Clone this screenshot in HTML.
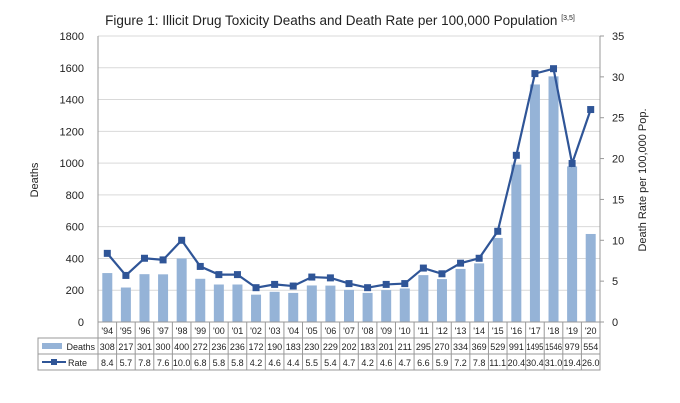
<!DOCTYPE html>
<html><head><meta charset="utf-8"><style>
body{margin:0;background:#fff;font-family:"Liberation Sans",sans-serif;}
svg{display:block}
</style></head><body>
<svg id="c" width="680" height="403" font-family="Liberation Sans, sans-serif"></svg>
<script>
const years=["'94","'95","'96","'97","'98","'99","'00","'01","'02","'03","'04","'05","'06","'07","'08","'09","'10","'11","'12","'13","'14","'15","'16","'17","'18","'19","'20"];
const deaths=[308,217,301,300,400,272,236,236,172,190,183,230,229,202,183,201,211,295,270,334,369,529,991,1495,1546,979,554];
const rates=[8.4,5.7,7.8,7.6,10.0,6.8,5.8,5.8,4.2,4.6,4.4,5.5,5.4,4.7,4.2,4.6,4.7,6.6,5.9,7.2,7.8,11.1,20.4,30.4,31.0,19.4,26.0];
const leftTicks=[0,200,400,600,800,1000,1200,1400,1600,1800];
const rightTicks=[0,5,10,15,20,25,30,35];
const NS="http://www.w3.org/2000/svg",svg=document.getElementById('c');
const X0=98,X1=600,Y0=322,Y1=36,cw=(X1-X0)/years.length;
const yL=v=>Y0-(v/1800)*(Y0-Y1), yR=v=>Y0-(v/35)*(Y0-Y1), xc=i=>X0+cw*(i+0.5);
function el(t,a,txt){const e=document.createElementNS(NS,t);for(const k in a)e.setAttribute(k,a[k]);if(txt!=null)e.textContent=txt;svg.appendChild(e);return e;}
let t=el('text',{x:340,y:25,'font-size':13.5,'text-anchor':'middle',fill:'#222'},'Figure 1: Illicit Drug Toxicity Deaths and Death Rate per 100,000 Population ');

const sp=document.createElementNS(NS,'tspan');sp.setAttribute('font-size','7');sp.setAttribute('dy','-5');sp.textContent='[3,5]';t.appendChild(sp);
leftTicks.forEach(v=>{const g=el('line',{x1:X0,x2:X1,y1:yL(v),y2:yL(v),stroke:'#d9d9d9'});
const l=el('text',{x:84,y:yL(v)+4,'font-size':11,'text-anchor':'end',fill:'#222'},v);});
rightTicks.forEach(v=>{el('line',{x1:X1,x2:X1+4,y1:yR(v),y2:yR(v),stroke:'#999'});
const l=el('text',{x:612,y:yR(v)+4,'font-size':11,fill:'#222'},v);});
el('line',{x1:X0,x2:X0,y1:Y1,y2:Y0,stroke:'#999'});el('line',{x1:X1,x2:X1,y1:Y1,y2:Y0,stroke:'#999'});
let a=el('text',{transform:'translate(38,180) rotate(-90)','font-size':11,'text-anchor':'middle',fill:'#222'},'Deaths');
a=el('text',{transform:'translate(646,180) rotate(-90)','font-size':11,'text-anchor':'middle',fill:'#222'},'Death Rate per 100,000 Pop.');
deaths.forEach((d,i)=>{const b=el('rect',{x:xc(i)-5,y:yL(d),width:10,height:Y0-yL(d),fill:'#95b3d7'});});
const pl=el('polyline',{points:rates.map((r,i)=>xc(i)+','+yR(r)).join(' '),fill:'none',stroke:'#2f5597','stroke-width':2.2});
rates.forEach((r,i)=>{const m=el('rect',{x:xc(i)-3.5,y:yR(r)-3.5,width:7,height:7,fill:'#2f5597'});});
el('line',{x1:X0,x2:X1,y1:Y0,y2:Y0,stroke:'#999'});
// table
const T0=Y0,rh=16,LX=38;
const rowsY=[T0,T0+rh,T0+2*rh,T0+3*rh];
el('rect',{x:LX,y:T0+rh,width:X1-LX,height:2*rh,fill:'none',stroke:'#999'});
rowsY.forEach((y,k)=>el('line',{x1:k==0?X0:LX,x2:X1,y1:y,y2:y,stroke:'#999'}));
for(let i=0;i<=years.length;i++)el('line',{x1:X0+cw*i,x2:X0+cw*i,y1:T0,y2:T0+3*rh,stroke:'#999'});
el('rect',{x:42,y:T0+rh+5,width:20,height:6,fill:'#95b3d7'});
let lg=el('text',{x:95,y:T0+rh+12,'font-size':9,'text-anchor':'end',fill:'#222'},'Deaths');
el('line',{x1:42,x2:66,y1:T0+2*rh+8,y2:T0+2*rh+8,stroke:'#2f5597','stroke-width':2});
el('rect',{x:51,y:T0+2*rh+5,width:6,height:6,fill:'#2f5597'});
lg=el('text',{x:68,y:T0+2*rh+12,'font-size':9,fill:'#222'},'Rate');
years.forEach((y,i)=>{
 let e=el('text',{x:xc(i),y:T0+12,'font-size':9,'text-anchor':'middle',fill:'#222'},y);
 e=el('text',{x:xc(i),y:T0+rh+12,'font-size':9,'text-anchor':'middle',fill:'#222','textLength':deaths[i]>=1000?17:'','lengthAdjust':'spacingAndGlyphs'},deaths[i]);if(deaths[i]<1000)e.removeAttribute('textLength');
 e=el('text',{x:xc(i),y:T0+2*rh+12,'font-size':9,'text-anchor':'middle',fill:'#222'},rates[i].toFixed(1));
});
</script>
</body></html>
